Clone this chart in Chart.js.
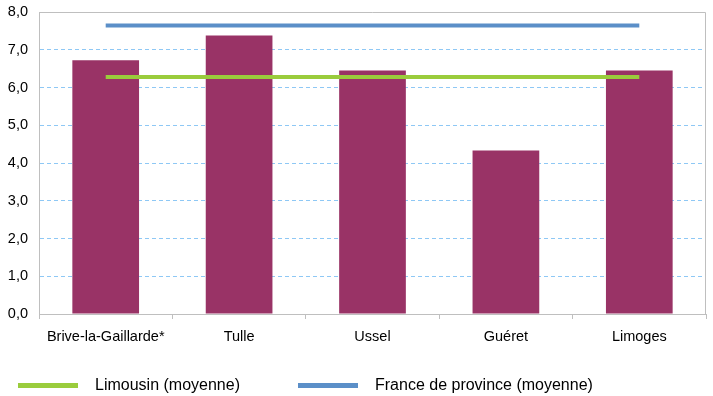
<!DOCTYPE html>
<html lang="fr">
<head>
<meta charset="utf-8">
<script src="https://cdn.jsdelivr.net/npm/chart.js@4.4.0/dist/chart.umd.min.js"></script>
<style>
    html, body { margin: 0; padding: 0; background: #fff; }
    #wrap { position: relative; width: 713px; height: 396px; }
    .leg { position: absolute; top: 375px; height: 20px; display: flex; align-items: center;
           font-family: 'Liberation Sans', Arial, sans-serif; font-size: 16px; color: #000; }
    .leg span.box { display: inline-block; width: 60px; height: 5px; margin-right: 17px; }
</style>
</head>
<body>
<div id="wrap">
    <canvas id="chart" width="713" height="396"></canvas>
    <div class="leg" style="left:18px"><span class="box" style="background:#9acc3c"></span>Limousin (moyenne)</div>
    <div class="leg" style="left:298px"><span class="box" style="background:#5b8fc8"></span>France de province (moyenne)</div>
</div>
<script>
// Données
const categories = ['Brive-la-Gaillarde*', 'Tulle', 'Ussel', 'Guéret', 'Limoges'];
const villeValues = [6.72, 7.38, 6.45, 4.33, 6.45];
const limousinValues = [6.28, 6.28, 6.28, 6.28, 6.28];
const franceValues = [7.64, 7.64, 7.64, 7.64, 7.64];
const yTicks = [0, 1, 2, 3, 4, 5, 6, 7, 8];

const FONT = "'Liberation Sans', Arial, sans-serif";

// Cadre gris en haut et à droite de la zone de tracé
const framePlugin = {
    id: 'frame',
    beforeDatasetsDraw(chart) {
        const a = chart.chartArea;
        const c = chart.ctx;
        c.save();
        c.strokeStyle = '#bfbfbf';
        c.lineWidth = 1;
        c.beginPath();
        c.moveTo(a.left, a.top + 0.5);
        c.lineTo(a.right - 0.5, a.top + 0.5);
        c.lineTo(a.right - 0.5, a.bottom);
        c.stroke();
        c.restore();
    }
};

new Chart(document.getElementById('chart'), {
    data: {
        labels: categories,
        datasets: [
            {
                type: 'line',
                label: 'Limousin (moyenne)',
                data: limousinValues,
                borderColor: '#9acc3c',
                borderWidth: 4,
                pointRadius: 0,
                order: 1
            },
            {
                type: 'line',
                label: 'France de province (moyenne)',
                data: franceValues,
                borderColor: '#5b8fc8',
                borderWidth: 4,
                pointRadius: 0,
                order: 1
            },
            {
                type: 'bar',
                label: 'Villes',
                data: villeValues,
                backgroundColor: '#993366',
                barPercentage: 0.5,
                categoryPercentage: 1,
                order: 2
            }
        ]
    },
    options: {
        responsive: false,
        animation: false,
        layout: { autoPadding: false, padding: { top: 12, right: 7, left: 0, bottom: 0 } },
        plugins: {
            legend: { display: false },
            tooltip: { enabled: false }
        },
        scales: {
            x: {
                offset: true,
                afterFit(scale) { scale.height = 82; scale.paddingLeft = 0; scale.paddingRight = 0; },
                grid: {
                    offset: true,
                    drawOnChartArea: false,
                    drawTicks: true,
                    tickLength: 5,
                    color: '#bfbfbf'
                },
                border: { color: '#bfbfbf' },
                ticks: {
                    color: '#000',
                    padding: 9,
                    maxRotation: 0,
                    font: { family: FONT, size: 14.5 }
                }
            },
            y: {
                min: 0,
                max: 8,
                afterFit(scale) { scale.width = 39; scale.paddingTop = 0; scale.paddingBottom = 0; },
                afterBuildTicks(scale) { scale.ticks = yTicks.map(v => ({ value: v })); },
                grid: {
                    drawTicks: false,
                    color: ctx => (ctx.tick && (ctx.tick.value === 0 || ctx.tick.value === 8)) ? 'rgba(0,0,0,0)' : '#8ec8f5'
                },
                border: { color: '#bfbfbf', dash: [4, 3] },
                ticks: {
                    color: '#000',
                    padding: 11,
                    font: { family: FONT, size: 14.5 },
                    callback: v => v.toFixed(1).replace('.', ',')
                }
            }
        }
    },
    plugins: [framePlugin]
});
</script>
</body>
</html>
